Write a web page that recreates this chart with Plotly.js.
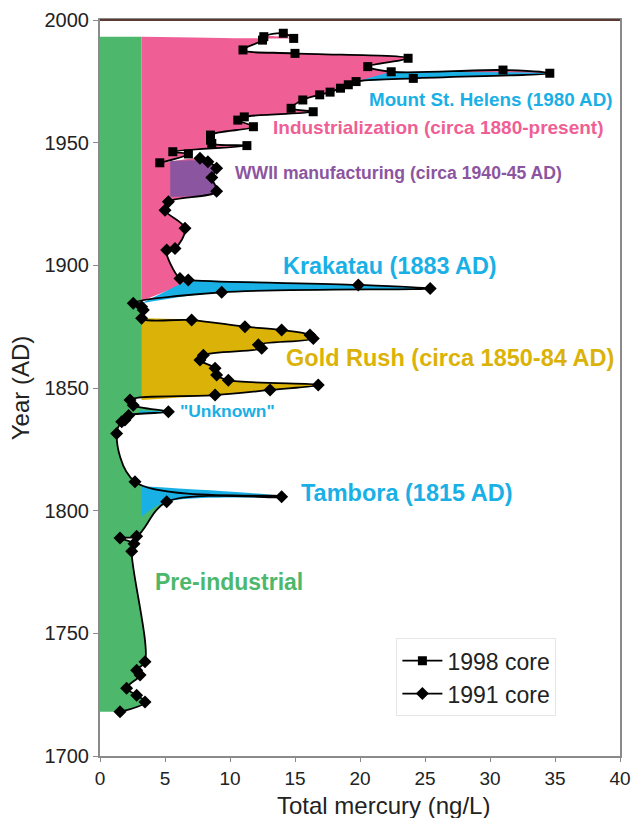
<!DOCTYPE html>
<html>
<head>
<meta charset="utf-8">
<script src="https://cdn.plot.ly/plotly-3.0.1.min.js"></script>
<style>html,body{margin:0;padding:0;background:#fff;}#chart{width:633px;height:818px;}</style>
</head>
<body>
<div id="chart"></div>
<script>
// ---- Data ----
const core1991Year = [1718.0,1722.0,1724.8,1727.6,1733.0,1735.0,1738.4,1783.5,1786.5,1788.9,1789.6,1803.6,1805.7,1811.8,1831.5,1836.2,1837.0,1838.8,1840.3,1843.0,1845.1,1847.1,1849.2,1851.2,1853.2,1855.3,1858.0,1861.4,1863.4,1866.2,1867.6,1870.2,1871.6,1873.6,1875.0,1877.7,1878.4,1881.8,1883.1,1884.5,1889.0,1890.6,1892.0,1894.0,1894.6,1906.2,1906.9,1915.1,1922.5,1925.9,1930.2,1935.8,1939.6,1942.2,1943.6];
const core1991Hg   = [1.54,3.46,2.82,2.05,3.08,2.82,3.46,2.44,2.62,1.54,2.82,5.13,13.97,2.69,1.28,1.67,1.92,2.20,5.26,2.56,2.31,8.85,13.08,16.79,9.87,8.97,8.85,7.69,7.95,12.44,12.18,16.41,16.15,13.97,11.15,7.05,3.20,3.33,3.20,2.56,9.36,25.40,19.87,6.79,6.15,5.13,5.77,6.54,5.00,5.26,8.97,8.60,8.97,8.30,7.69];

const core1998Year = [1941.8,1945.4,1946.3,1948.8,1949.7,1951.0,1953.1,1956.5,1959.2,1960.5,1962.6,1964.0,1967.4,1969.5,1970.6,1972.2,1973.6,1974.9,1976.2,1978.3,1979.6,1978.9,1981.0,1984.4,1986.4,1987.8,1991.8,1993.2,1994.6,1992.5];
const core1998Hg   = [4.60,6.80,5.60,11.30,8.60,8.50,8.50,11.80,10.60,11.10,16.40,14.70,15.60,16.90,17.70,18.50,19.10,19.70,24.10,34.60,31.00,22.40,20.60,23.70,15.00,11.00,12.50,12.60,14.10,14.90];

// Era bands (baseline Hg level and year spans of the shaded periods)
const preIndustrialLevel = 3.2;
const topOfRecord = 1993.2;
const krakatauSpan = [1884.5, 1894.0];
const goldRushSpan = [1845.1, 1878.4];
const tamboraSpan = [1797.5, 1810.0];
const unknownSpan = [1839.8, 1840.8];
const unknownBase = 3.0;
const wwiiSpan = [1928.0, 1942.5];
const wwiiBase = 5.4;
const stHelensSpan = [1974.9, 1979.0];
const industrialStart = 1885.5;

const colors = {green:'#4db86c', pink:'#ef5f95', blue:'#19b0e6', gold:'#dbb308', purple:'#8c55a0'};

function pick(xs, ys, y0, y1){
  const px=[], py=[];
  for(let i=0;i<ys.length;i++){ if(ys[i]>=y0 && ys[i]<=y1){px.push(xs[i]);py.push(ys[i]);} }
  return {x:px,y:py};
}
function poly(pts, color, smooth){
  return {type:'scatter', mode:'lines', x:pts.x, y:pts.y, fill:'toself', fillcolor:color,
          line:{width:0, color:color, shape: smooth ? 'spline' : 'linear', smoothing:1}, hoverinfo:'skip', showlegend:false};
}
function band(xs, ys, span, base, color){
  const p = pick(xs, ys, span[0]+0.01, span[1]-0.01);
  return poly({x:[base].concat(p.x,[base]), y:[span[0]].concat(p.y,[span[1]])}, color, true);
}

const traces = [];
// green pre-industrial fill to the curve
const g = pick(core1991Hg, core1991Year, 1700, krakatauSpan[0]);
traces.push({type:'scatter', mode:'lines', x:g.x, y:g.y, fill:'tozerox', fillcolor:colors.green,
             line:{width:0,color:colors.green, shape:'spline', smoothing:1}, hoverinfo:'skip', showlegend:false});
// pink industrial region
const p91 = pick(core1991Hg, core1991Year, krakatauSpan[1], 1944);
const p98 = pick(core1998Hg, core1998Year, 1941, topOfRecord);
traces.push(poly({x:[preIndustrialLevel].concat(p91.x, p98.x, [preIndustrialLevel]),
                  y:[industrialStart].concat(p91.y, p98.y, [topOfRecord])}, colors.pink, true));
// green band continuing above the pre-industrial curve
traces.push(poly({x:[0,preIndustrialLevel,preIndustrialLevel,0], y:[krakatauSpan[0]-1.5,krakatauSpan[0]-1.5,topOfRecord,topOfRecord]}, colors.green, false));
// event regions
const kr = pick(core1991Hg, core1991Year, krakatauSpan[0]+0.1, krakatauSpan[1]);
traces.push(poly({x:[preIndustrialLevel].concat(kr.x), y:[krakatauSpan[0]].concat(kr.y)}, colors.blue, true));
traces.push(band(core1991Hg, core1991Year, goldRushSpan, preIndustrialLevel, colors.gold));
traces.push(band(core1991Hg, core1991Year, tamboraSpan, preIndustrialLevel, colors.blue));
traces.push(band(core1991Hg, core1991Year, unknownSpan, unknownBase, colors.blue));
traces.push(band(core1991Hg, core1991Year, wwiiSpan, wwiiBase, colors.purple));
traces.push(poly(pick(core1998Hg, core1998Year, stHelensSpan[0], stHelensSpan[1]), colors.blue, true));

// data lines
traces.push({type:'scatter', mode:'lines+markers', name:'1998 core', x:core1998Hg, y:core1998Year,
  line:{color:'#000', width:1.8, shape:'spline', smoothing:1},
  marker:{symbol:'square', size:9, color:'#000'}});
traces.push({type:'scatter', mode:'lines+markers', name:'1991 core', x:core1991Hg, y:core1991Year,
  line:{color:'#000', width:1.8, shape:'spline', smoothing:1},
  marker:{symbol:'diamond', size:10, color:'#000'}});

const F = 'Liberation Sans, Arial, sans-serif';
function lab(text, x, y, color, size){
  return {text:text, x:x, y:y, xref:'x', yref:'y', xanchor:'left', yanchor:'middle', showarrow:false,
          font:{family:F, size:size, color:color, weight:'bold'}};
}
const annotations = [
  lab('Mount St. Helens (1980 AD)', 20.5, 1967.4, colors.blue, 18.8),
  lab('Industrialization (circa 1880-present)', 13.15, 1956.0, colors.pink, 19),
  lab('WWII manufacturing (circa 1940-45 AD)', 10.2, 1937.6, colors.purple, 17.6),
  lab('Krakatau (1883 AD)', 13.9, 1899.7, colors.blue, 23.4),
  lab('Gold Rush (circa 1850-84 AD)', 14.15, 1862.2, colors.gold, 23.5),
  lab('"Unknown"', 6.0, 1840.6, colors.blue, 17.4),
  lab('Tambora (1815 AD)', 15.3, 1807.2, colors.blue, 23.5),
  lab('Pre-industrial', 4.08, 1771.0, colors.green, 23),
  {text:'Total mercury (ng/L)', xref:'paper', yref:'paper', x:0.546, y:-0.0675, xanchor:'center', yanchor:'middle',
   showarrow:false, font:{family:F, size:24, color:'#222'}}
];

const layout = {
  width:633, height:818,
  margin:{l:100, r:13, t:20, b:62},
  paper_bgcolor:'#fff', plot_bgcolor:'#fff',
  font:{family:F, color:'#222'},
  showlegend:true,
  legend:{x:0.57, y:0.16, xanchor:'left', yanchor:'top', bgcolor:'#fff', bordercolor:'#e6e6e6', borderwidth:1,
          font:{family:F, size:23, color:'#222'}, tracegroupgap:0, itemwidth:40},
  xaxis:{range:[0,40], dtick:5, tick0:0, showgrid:false, zeroline:false, showline:true, linecolor:'#8a8a8a', linewidth:2,
         mirror:true, ticks:'outside', ticklen:4, tickcolor:'#8a8a8a', tickfont:{family:F, size:19, color:'#222'}},
  yaxis:{range:[1700,2000], dtick:50, tick0:1700, showgrid:false, zeroline:false, showline:true, linecolor:'#8a8a8a', linewidth:2,
         mirror:true, ticks:'outside', ticklen:5, tickcolor:'#8a8a8a', tickfont:{family:F, size:20, color:'#222'},
         title:{text:'Year (AD)', font:{family:F, size:24, color:'#222'}, standoff:8}},
  shapes:[{type:'line', xref:'paper', yref:'paper', x0:0, x1:1, y0:1, y1:1, line:{color:'#5a3a33', width:2}}],
  annotations:annotations
};
Plotly.newPlot('chart', traces, layout, {staticPlot:true, displayModeBar:false});
</script>
</body>
</html>
